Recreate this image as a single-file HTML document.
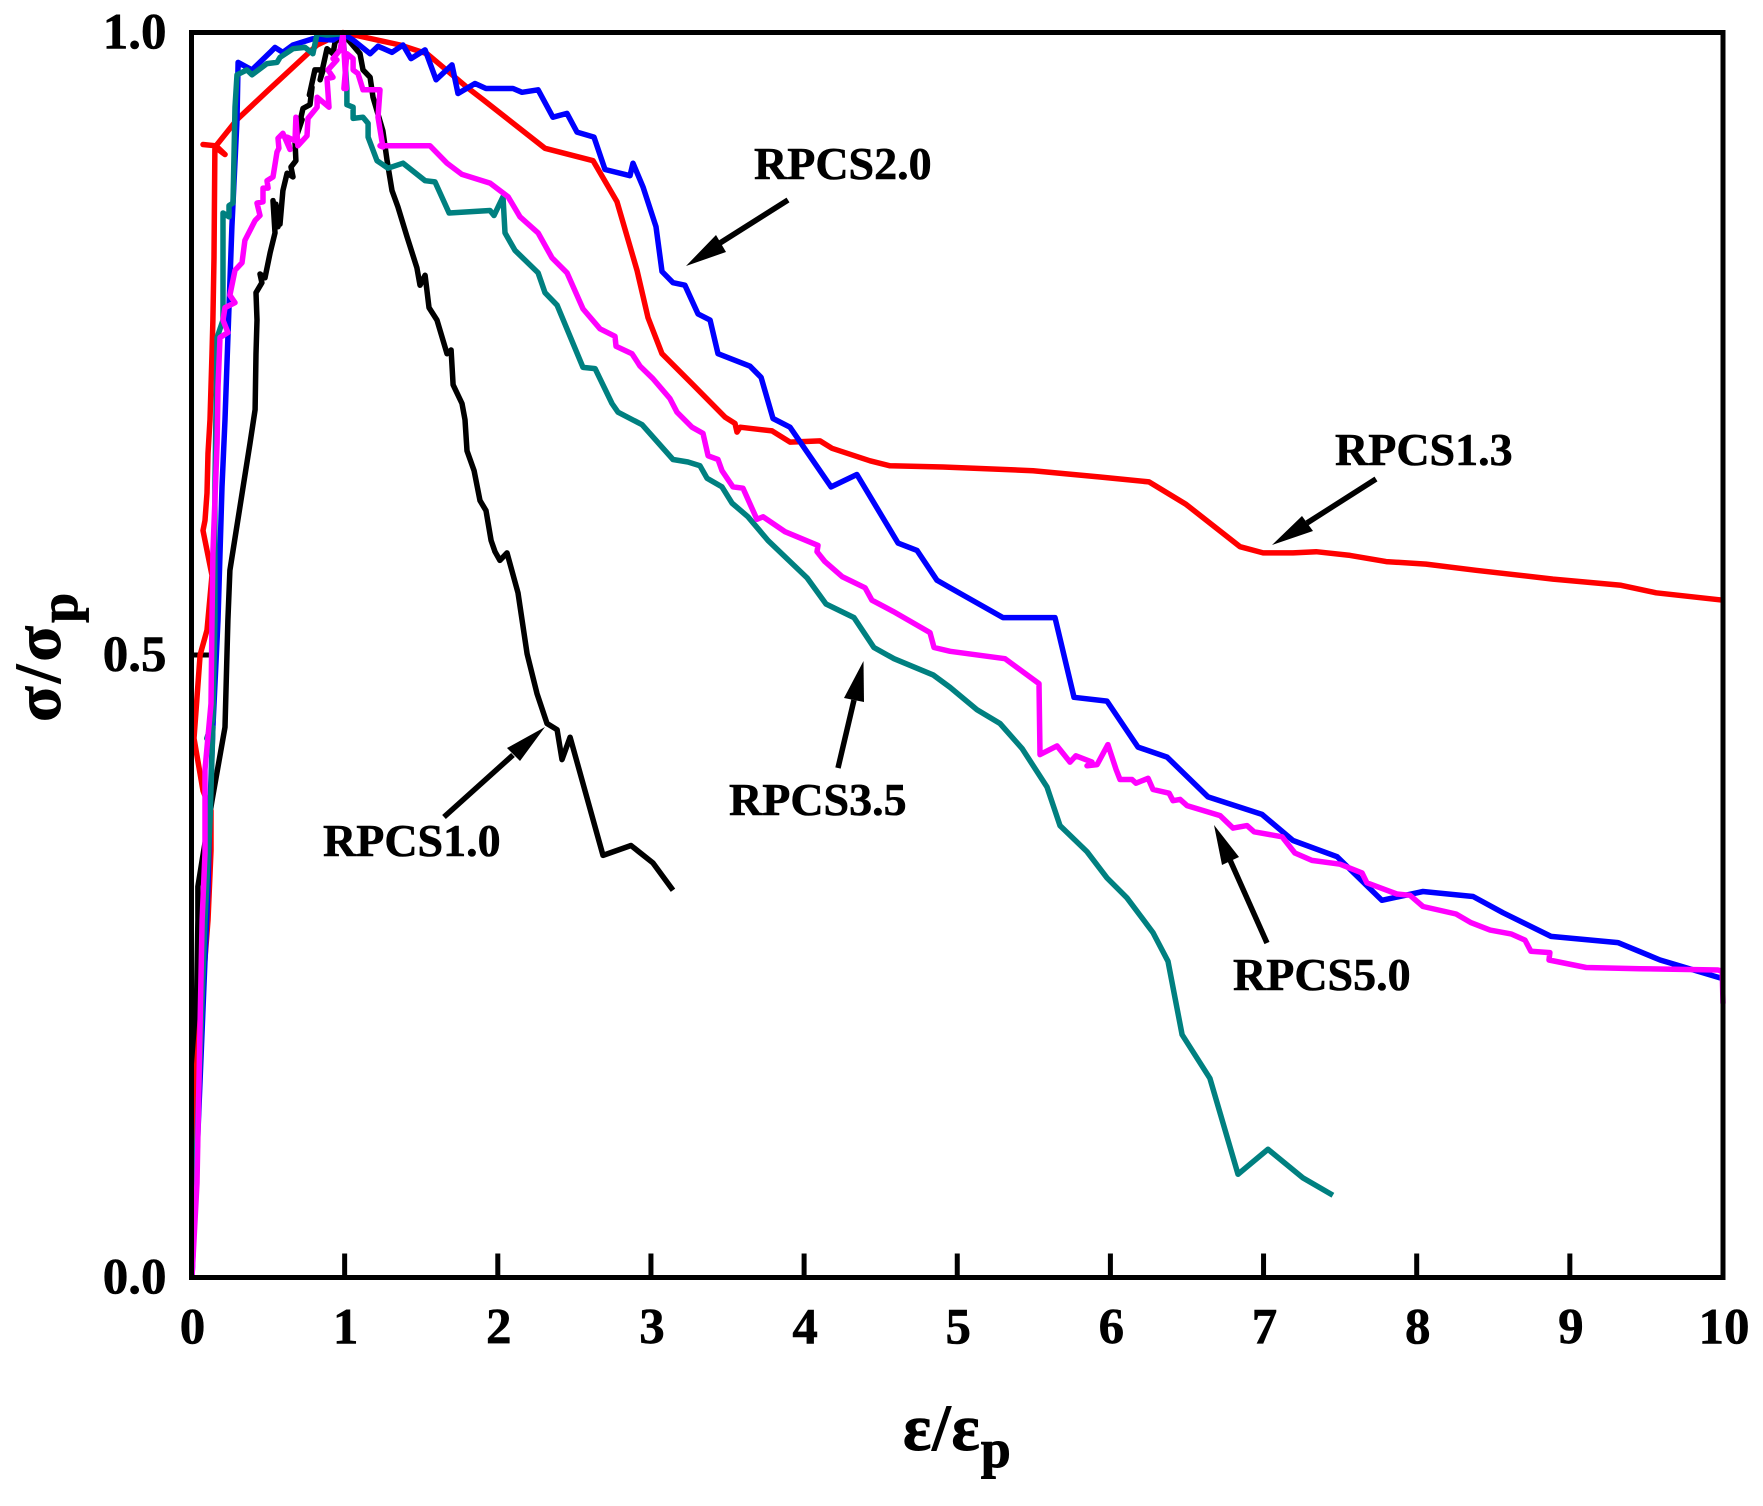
<!DOCTYPE html>
<html lang="en">
<head>
<meta charset="utf-8">
<title>Stress-strain curves</title>
<style>
html,body{margin:0;padding:0;background:#fff;}
svg{display:block;}
text{font-family:"Liberation Serif","DejaVu Serif",serif;font-weight:bold;fill:#000;}
.tick{font-size:51px;stroke:#000;stroke-width:0.6px;}
.ann{font-size:46px;stroke:#000;stroke-width:0.6px;}
.title{font-size:66px;stroke:#000;stroke-width:0.9px;}
</style>
</head>
<body>
<svg id="chart" xmlns="http://www.w3.org/2000/svg" width="1763" height="1506" viewBox="0 0 1763 1506">
  <rect x="0" y="0" width="1763" height="1506" fill="#fff"/>
  <g id="ticks"></g>
  <g id="series"></g>
  <rect id="frame" fill="none" stroke="#000" stroke-width="5"/>
  <g id="labels"></g>

  <text class="title" x="903" y="1450" letter-spacing="1">ε/ε<tspan dy="17" font-size="54">p</tspan></text>
  <text class="title" transform="translate(60,722) rotate(-90)" x="0" y="0" letter-spacing="3">σ/σ<tspan dy="17" font-size="54">p</tspan></text>

  <g>
    <text class="ann" x="754" y="179">RPCS2.0</text>
    <line x1="788" y1="200" x2="720" y2="243" stroke="#000" stroke-width="5.5"/>
    <polygon points="686,266 716,235 726,252" fill="#000"/>
  </g>
  <g>
    <text class="ann" x="1335" y="465">RPCS1.3</text>
    <line x1="1376" y1="479" x2="1307" y2="523" stroke="#000" stroke-width="5.5"/>
    <polygon points="1272,545 1302,516 1313,531" fill="#000"/>
  </g>
  <g>
    <text class="ann" x="1233" y="990">RPCS5.0</text>
    <line x1="1267" y1="943" x2="1230" y2="860" stroke="#000" stroke-width="5.5"/>
    <polygon points="1214,825 1239,857 1222,865" fill="#000"/>
  </g>
  <g>
    <text class="ann" x="729" y="815">RPCS3.5</text>
    <line x1="838" y1="768" x2="854" y2="700" stroke="#000" stroke-width="5.5"/>
    <polygon points="863.5,661 844,698 864,702" fill="#000"/>
  </g>
  <g>
    <text class="ann" x="323" y="856">RPCS1.0</text>
    <line x1="444" y1="817" x2="513" y2="755" stroke="#000" stroke-width="5.5"/>
    <polygon points="545,727 507,748 520,761" fill="#000"/>
  </g>
</svg>
<script>
const xTickValues = [0,1,2,3,4,5,6,7,8,9,10];
const yTickValues = [0.0,0.5,1.0];
const yTickLabels = ["0.0","0.5","1.0"];

const rpcs10X = [0.003,0.042,0.042,0.069,0.134,0.219,0.238,0.251,0.382,0.415,0.421,0.428,0.421,0.460,0.447,0.480,0.513,0.545,0.532,0.565,0.551,0.578,0.597,0.624,0.663,0.650,0.682,0.676,0.722,0.702,0.728,0.774,0.787,0.770,0.806,0.859,0.840,0.885,0.924,0.937,0.989,1.100,1.120,1.166,1.185,1.250,1.277,1.309,1.348,1.407,1.472,1.492,1.525,1.551,1.603,1.668,1.695,1.708,1.766,1.786,1.799,1.845,1.884,1.923,1.956,1.982,2.014,2.060,2.132,2.191,2.256,2.321,2.387,2.419,2.472,2.687,2.870,3.013,3.144];
const rpcs10Y = [0,0.287,0.314,0.335,0.383,0.442,0.528,0.568,0.670,0.697,0.742,0.769,0.791,0.799,0.806,0.803,0.823,0.839,0.865,0.844,0.862,0.846,0.873,0.887,0.884,0.892,0.897,0.913,0.930,0.925,0.939,0.942,0.956,0.950,0.970,0.970,0.962,0.987,0.983,0.992,0.999,0.983,0.970,0.964,0.948,0.921,0.897,0.873,0.860,0.836,0.811,0.797,0.805,0.779,0.769,0.742,0.745,0.717,0.702,0.689,0.664,0.648,0.624,0.616,0.592,0.583,0.576,0.582,0.550,0.501,0.469,0.445,0.440,0.416,0.434,0.339,0.347,0.333,0.311];

const rpcs13X = [0.003,0.016,0.108,0.127,0.127,0.075,0.016,0.056,0.101,0.134,0.101,0.075,0.088,0.101,0.108,0.121,0.134,0.140,0.147,0.153,0.219,0.160,0.075,0.160,0.297,0.513,0.820,0.989,1.362,1.538,1.799,1.904,2.308,2.622,2.778,2.909,2.981,3.072,3.275,3.484,3.549,3.562,3.582,3.791,3.908,4.104,4.182,4.430,4.561,4.907,5.495,5.932,6.252,6.494,6.846,6.997,7.192,7.343,7.565,7.800,8.061,8.387,8.890,9.334,9.563,10];
const rpcs13Y = [0,0.143,0.287,0.343,0.375,0.391,0.433,0.500,0.520,0.564,0.584,0.600,0.608,0.630,0.662,0.689,0.742,0.769,0.819,0.908,0.902,0.909,0.910,0.909,0.930,0.955,0.990,1.000,0.990,0.983,0.956,0.946,0.907,0.897,0.864,0.809,0.771,0.742,0.717,0.691,0.686,0.679,0.683,0.680,0.671,0.672,0.666,0.656,0.652,0.651,0.648,0.643,0.639,0.621,0.587,0.582,0.582,0.583,0.580,0.575,0.573,0.568,0.561,0.556,0.550,0.544];

const rpcs20X = [0.003,0.108,0.121,0.140,0.173,0.199,0.219,0.238,0.264,0.297,0.304,0.395,0.513,0.545,0.597,0.663,0.793,0.924,0.989,1.055,1.166,1.218,1.309,1.381,1.433,1.525,1.597,1.701,1.740,1.851,1.923,2.099,2.158,2.263,2.360,2.452,2.517,2.628,2.700,2.863,2.883,2.948,3.033,3.072,3.144,3.222,3.307,3.386,3.438,3.647,3.719,3.797,3.908,4.176,4.345,4.613,4.737,4.868,4.953,5.299,5.638,5.762,5.978,6.180,6.370,6.637,6.990,7.192,7.480,7.773,8.041,8.368,8.563,8.877,9.314,9.589,10];
const rpcs20Y = [0,0.314,0.378,0.442,0.528,0.635,0.689,0.755,0.844,0.930,0.976,0.970,0.984,0.988,0.984,0.990,0.995,0.994,0.999,0.994,0.983,0.989,0.984,0.990,0.979,0.986,0.962,0.974,0.951,0.959,0.955,0.955,0.952,0.954,0.932,0.935,0.920,0.916,0.890,0.885,0.895,0.876,0.844,0.808,0.799,0.797,0.774,0.769,0.742,0.732,0.723,0.690,0.683,0.635,0.645,0.590,0.584,0.560,0.554,0.530,0.530,0.466,0.463,0.426,0.418,0.386,0.372,0.351,0.338,0.303,0.310,0.306,0.293,0.274,0.269,0.255,0.240];

const rpcs35X = [0.003,0.088,0.121,0.140,0.100,0.140,0.153,0.153,0.167,0.206,0.206,0.245,0.245,0.271,0.284,0.297,0.362,0.395,0.493,0.558,0.578,0.663,0.741,0.793,0.820,0.885,0.989,1.015,1.015,1.055,1.055,1.120,1.153,1.153,1.211,1.283,1.381,1.525,1.590,1.682,1.949,1.975,2.034,2.047,2.112,2.263,2.308,2.387,2.556,2.635,2.746,2.785,2.942,3.144,3.242,3.320,3.366,3.464,3.529,3.634,3.764,4.019,4.143,4.326,4.456,4.587,4.842,4.953,5.129,5.279,5.423,5.586,5.671,5.847,5.978,6.108,6.278,6.376,6.468,6.650,6.833,7.029,7.257,7.453];
const rpcs35Y = [0,0.287,0.367,0.442,0.433,0.448,0.528,0.635,0.755,0.769,0.855,0.852,0.861,0.863,0.940,0.966,0.970,0.966,0.975,0.976,0.980,0.987,0.988,0.983,0.999,0.998,0.999,0.955,0.942,0.940,0.931,0.932,0.927,0.916,0.897,0.891,0.895,0.881,0.880,0.855,0.857,0.853,0.868,0.839,0.825,0.807,0.791,0.781,0.731,0.730,0.702,0.695,0.685,0.657,0.655,0.652,0.642,0.635,0.622,0.611,0.592,0.562,0.541,0.530,0.506,0.497,0.484,0.474,0.456,0.445,0.425,0.394,0.363,0.342,0.321,0.305,0.277,0.254,0.195,0.160,0.083,0.103,0.080,0.066];

const rpcs50X = [0.003,0.036,0.069,0.088,0.088,0.127,0.134,0.140,0.167,0.173,0.186,0.238,0.206,0.219,0.284,0.251,0.284,0.330,0.349,0.415,0.447,0.428,0.467,0.467,0.500,0.493,0.532,0.558,0.571,0.565,0.597,0.643,0.624,0.676,0.682,0.695,0.754,0.761,0.820,0.820,0.898,0.885,0.924,0.891,0.950,0.924,0.970,0.989,1.010,0.995,1.015,1.055,1.055,1.087,1.120,1.231,1.218,1.250,1.231,1.557,1.668,1.766,1.949,2.067,2.145,2.263,2.354,2.452,2.556,2.667,2.765,2.772,2.876,2.929,3.013,3.124,3.170,3.268,3.340,3.373,3.438,3.464,3.536,3.601,3.692,3.732,3.875,4.091,4.084,4.136,4.248,4.398,4.443,4.581,4.822,4.848,4.953,5.312,5.534,5.540,5.651,5.736,5.775,5.880,5.847,5.913,5.984,6.037,6.063,6.141,6.167,6.246,6.278,6.383,6.409,6.455,6.500,6.716,6.801,6.892,6.938,7.121,7.205,7.316,7.499,7.643,7.675,7.871,7.956,8.041,8.257,8.355,8.479,8.616,8.707,8.746,8.870,8.864,9.106,9.458,9.967,9.995,10];
const rpcs50Y = [0,0.076,0.287,0.341,0.408,0.461,0.528,0.582,0.670,0.715,0.755,0.759,0.769,0.779,0.783,0.789,0.809,0.815,0.833,0.849,0.853,0.863,0.864,0.875,0.875,0.881,0.884,0.904,0.907,0.915,0.919,0.906,0.916,0.913,0.932,0.909,0.917,0.931,0.940,0.948,0.940,0.963,0.964,0.970,0.978,0.979,0.986,0.999,0.955,0.955,0.983,0.979,0.970,0.967,0.954,0.954,0.932,0.908,0.909,0.909,0.895,0.886,0.879,0.868,0.852,0.839,0.819,0.807,0.778,0.762,0.756,0.748,0.742,0.732,0.722,0.706,0.695,0.683,0.678,0.660,0.657,0.648,0.635,0.634,0.609,0.611,0.599,0.588,0.583,0.575,0.563,0.554,0.544,0.535,0.518,0.506,0.503,0.497,0.477,0.420,0.427,0.414,0.419,0.414,0.411,0.412,0.428,0.408,0.400,0.400,0.397,0.401,0.392,0.389,0.383,0.384,0.379,0.371,0.361,0.363,0.358,0.354,0.341,0.335,0.332,0.325,0.317,0.308,0.307,0.298,0.292,0.285,0.279,0.276,0.271,0.262,0.261,0.255,0.249,0.248,0.247,0.246,0.220];

const plotLeft = 191.5, plotRight = 1723, plotTop = 32.5, plotBottom = 1277.5;
const xMax = 10, yMax = 1;
const NS = 'http://www.w3.org/2000/svg';

function xScale(v){ return plotLeft + (v / xMax) * (plotRight - plotLeft); }
function yScale(v){ return plotBottom - (v / yMax) * (plotBottom - plotTop); }
function pathFrom(xs, ys){
  return xs.map(function(x, i){
    return (i ? 'L' : 'M') + xScale(x).toFixed(1) + ' ' + yScale(ys[i]).toFixed(1);
  }).join(' ');
}

const frame = document.getElementById('frame');
frame.setAttribute('x', plotLeft);
frame.setAttribute('y', plotTop);
frame.setAttribute('width', plotRight - plotLeft);
frame.setAttribute('height', plotBottom - plotTop);

const tickGroup = document.getElementById('ticks');
const labelGroup = document.getElementById('labels');

xTickValues.forEach(function(v){
  if (v > 0 && v < xMax) {
    const t = document.createElementNS(NS, 'line');
    
    
    t.setAttribute('x1', xScale(v));
    t.setAttribute('x2', xScale(v));
    t.setAttribute('y1', plotBottom);
    t.setAttribute('y2', plotBottom - 24);
    t.setAttribute('stroke', '#000');
    t.setAttribute('stroke-width', '5');
    tickGroup.appendChild(t);
  }
  const l = document.createElementNS(NS, 'text');
  
  
  l.setAttribute('class', 'tick');
  l.setAttribute('text-anchor', 'middle');
  l.setAttribute('x', xScale(v) + 1);
  l.setAttribute('y', plotBottom + 66);
  l.textContent = String(v);
  labelGroup.appendChild(l);
});

yTickValues.forEach(function(v, i){
  if (v > 0 && v < yMax) {
    const t = document.createElementNS(NS, 'line');
    
    
    t.setAttribute('x1', plotLeft);
    t.setAttribute('x2', plotLeft + 24);
    t.setAttribute('y1', yScale(v));
    t.setAttribute('y2', yScale(v));
    t.setAttribute('stroke', '#000');
    t.setAttribute('stroke-width', '5');
    tickGroup.appendChild(t);
  }
  const l = document.createElementNS(NS, 'text');
  
  
  l.setAttribute('class', 'tick');
  l.setAttribute('text-anchor', 'end');
  l.setAttribute('x', plotLeft - 25);
  l.setAttribute('y', yScale(v) + 16);
  l.textContent = yTickLabels[i];
  labelGroup.appendChild(l);
});

const seriesGroup = document.getElementById('series');

const lineRpcs10 = document.createElementNS(NS, 'path');


lineRpcs10.setAttribute('d', pathFrom(rpcs10X, rpcs10Y));
lineRpcs10.setAttribute('stroke', '#000000');
seriesGroup.appendChild(lineRpcs10);

const lineRpcs13 = document.createElementNS(NS, 'path');


lineRpcs13.setAttribute('d', pathFrom(rpcs13X, rpcs13Y));
lineRpcs13.setAttribute('stroke', '#ff0000');
seriesGroup.appendChild(lineRpcs13);

const lineRpcs20 = document.createElementNS(NS, 'path');


lineRpcs20.setAttribute('d', pathFrom(rpcs20X, rpcs20Y));
lineRpcs20.setAttribute('stroke', '#0000ff');
seriesGroup.appendChild(lineRpcs20);

const lineRpcs35 = document.createElementNS(NS, 'path');


lineRpcs35.setAttribute('d', pathFrom(rpcs35X, rpcs35Y));
lineRpcs35.setAttribute('stroke', '#008080');
seriesGroup.appendChild(lineRpcs35);

const lineRpcs50 = document.createElementNS(NS, 'path');


lineRpcs50.setAttribute('d', pathFrom(rpcs50X, rpcs50Y));
lineRpcs50.setAttribute('stroke', '#ff00ff');
seriesGroup.appendChild(lineRpcs50);

[lineRpcs10, lineRpcs13, lineRpcs20, lineRpcs35, lineRpcs50].forEach(function(p){
  p.setAttribute('fill', 'none');
  p.setAttribute('stroke-width', '5.5');
  p.setAttribute('stroke-linejoin', 'round');
  p.setAttribute('stroke-linecap', 'butt');
});
</script>
</body>
</html>
